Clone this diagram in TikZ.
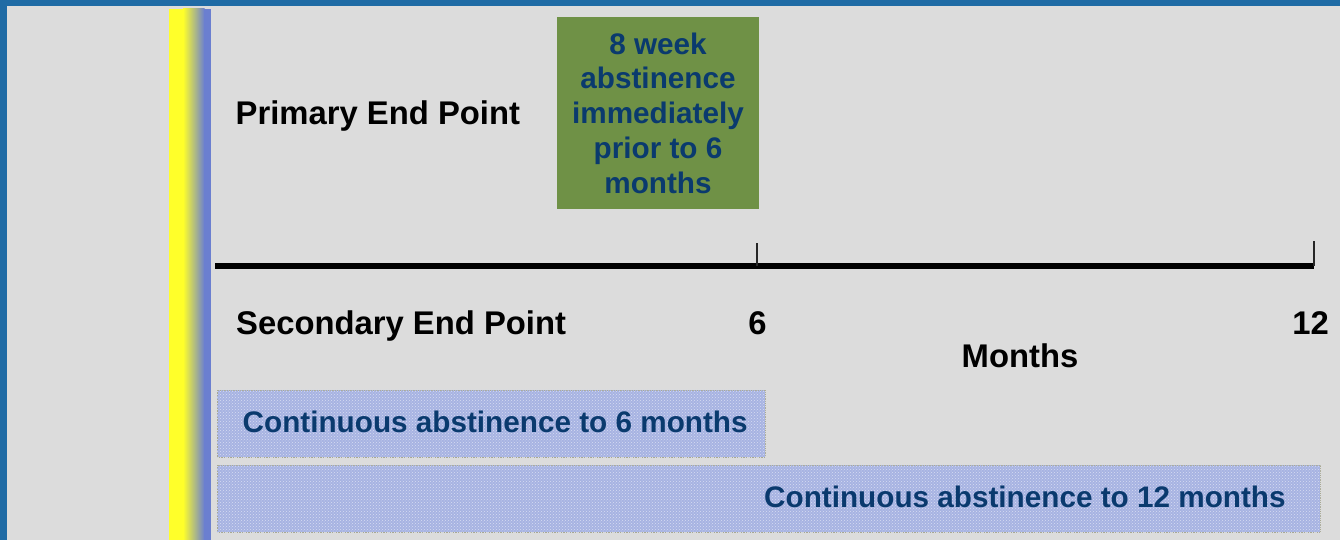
\documentclass[tikz,border=0pt]{standalone}
\usepackage{fontspec}
\setmainfont{Liberation Sans}
\usetikzlibrary{patterns}

\definecolor{frameblue}{HTML}{1F6BA5}
\definecolor{panelgray}{HTML}{DCDCDC}
\definecolor{barblue}{HTML}{6B7FD0}
\definecolor{baryellow}{HTML}{FFFF2A}
\definecolor{bargray}{HTML}{A9AA98}
\definecolor{olivebox}{HTML}{6F9146}
\definecolor{navytext}{HTML}{0A3A6E}
\definecolor{periwinkle}{HTML}{A7B3E2}
\definecolor{bandedge}{HTML}{A8A890}

\begin{document}
\begin{tikzpicture}[x=1pt,y=-1pt,
  blacklabel/.style={font=\fontsize{32.8}{38}\selectfont\bfseries, text=black, inner sep=0pt},
  bluelabel/.style={font=\fontsize{29.7}{34.7}\selectfont\bfseries, text=navytext, inner sep=0pt},
  band/.style={draw=bandedge, densely dotted, line width=0.8pt, fill=periwinkle, inner sep=0pt},
  tick/.style={draw=black!85, line width=1.5pt}]

\useasboundingbox (0,0) rectangle (1340,540);

% frame and panel
\fill[frameblue] (0,0) rectangle (1340,540);
\fill[panelgray] (7,6) rectangle (1340,540);

% side stripe: solid yellow, blend through grey, solid blue
\fill[baryellow] (169,9) rectangle (183.5,540);
\shade[left color=baryellow, middle color=bargray, right color=barblue]
  (183,9) rectangle (204.5,540);
\fill[barblue] (204,9) rectangle (211,540);

% primary end point window
\node[fill=olivebox, minimum width=202pt, minimum height=192pt, bluelabel, align=center]
  (goal) at (658,113) {8 week\\abstinence\\immediately\\prior to 6\\months};
\node[blacklabel, anchor=base west] (primary) at (235.5,125) {Primary End Point};

% time axis
\coordinate (t0) at (215,266);
\coordinate (t6) at (757,266);
\coordinate (t6top) at (757,243);
\coordinate (t12) at (1314,266);
\coordinate (t12top) at (1314,241);
\draw[line width=6pt] (t0) -- (t12);
\draw[tick] (t6) -- (t6top);
\draw[tick] (t12) -- (t12top);

\node[blacklabel, anchor=base west] (secondary) at (236,334) {Secondary End Point};
\node[blacklabel, anchor=base] (six) at (757.5,334) {6};
\node[blacklabel, anchor=base] (twelve) at (1310.5,334) {12};
\node[blacklabel, anchor=base] (months) at (1020,367) {Months};

% continuous abstinence bands
\node[band, minimum width=548pt, minimum height=67pt] (band6) at (491,423.5) {};
\fill[pattern=crosshatch dots, pattern color=white!55!periwinkle]
  (band6.south west) rectangle (band6.north east);
\node[band, minimum width=1103pt, minimum height=67pt] (band12) at (768.5,498.5) {};
\fill[pattern=crosshatch dots, pattern color=white!55!periwinkle]
  (band12.south west) rectangle (band12.north east);

\node[bluelabel, anchor=base west] (band6text) at (242.5,432) {Continuous abstinence to 6 months};
\node[bluelabel, anchor=base west] (band12text) at (764,507) {Continuous abstinence to 12 months};
\end{tikzpicture}
\end{document}
